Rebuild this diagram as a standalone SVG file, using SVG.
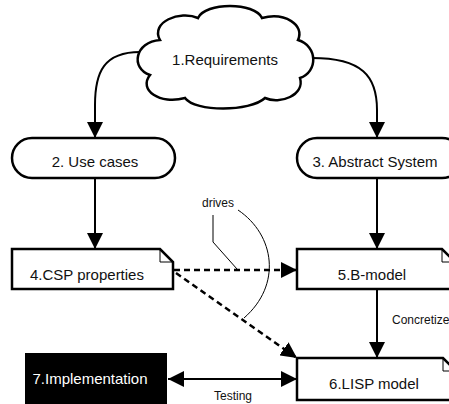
<svg xmlns="http://www.w3.org/2000/svg" width="449" height="404" viewBox="0 0 449 404">
<style>
.shape{fill:#fff;stroke:#000;stroke-width:2.5}
.fold{fill:none;stroke:#000;stroke-width:1}
.t{font-family:"Liberation Sans",Arial,sans-serif;font-size:15px;fill:#111;text-anchor:middle}
.lbl{font-family:"Liberation Sans",Arial,sans-serif;font-size:12px;fill:#111}
.c{fill:none;stroke:#000;stroke-width:2}
.d{fill:none;stroke:#000;stroke-width:2.5;stroke-dasharray:6 4}
.thin{fill:none;stroke:#000;stroke-width:1}
</style>
<defs>
<marker id="ah" markerUnits="userSpaceOnUse" markerWidth="17" markerHeight="16" refX="16" refY="8" orient="auto">
<path d="M0,0 L16,8 L0,16 z" fill="#000"/>
</marker>
<marker id="as" markerUnits="userSpaceOnUse" markerWidth="17" markerHeight="16" refX="0" refY="8" orient="auto">
<path d="M16,0 L0,8 L16,16 z" fill="#000"/>
</marker>
</defs>
<g id="connectors">
<path class="c" d="M140,52 C104,52 95,72 95,105 L95,138" marker-end="url(#ah)"/>
<path class="c" d="M312,58 C362,58 377,76 377,110 L377,138" marker-end="url(#ah)"/>
<path class="c" d="M95,178 L95,249" marker-end="url(#ah)"/>
<path class="c" d="M377,178 L377,249" marker-end="url(#ah)"/>
<path class="c" d="M377,289 L377,358" marker-end="url(#ah)"/>
<path class="c" d="M168,379 L297,379" marker-start="url(#as)" marker-end="url(#ah)"/>
<path class="d" d="M174,270 L297,270" marker-end="url(#ah)"/>
<path class="d" d="M176,273 L297,358" marker-end="url(#ah)"/>
<path class="thin" d="M213,215 L213,242 L237,269"/>
<path class="thin" d="M238,210 C275,235 282,285 244,318"/>
<text class="lbl" x="218" y="207" text-anchor="middle">drives</text>
<text class="lbl" x="392" y="324">Concretize</text>
<text class="lbl" x="233" y="400" text-anchor="middle">Testing</text>
</g>
<g id="n1">
<path class="shape" d="M160,40 C150,22 180,10 198,18 C205,2 255,2 262,18 C285,12 305,25 298,40 C318,46 318,72 300,78 C305,95 280,105 265,98 C250,112 195,112 185,98 C160,105 138,90 150,75 C130,68 135,42 160,40 Z"/>
<text class="t" x="225" y="65">1.Requirements</text>
</g>
<g id="n2">
<rect class="shape" x="12" y="138" width="163" height="40" rx="20"/>
<text class="t" x="95" y="167">2. Use cases</text>
</g>
<g id="n3">
<rect class="shape" x="297" y="138" width="165" height="40" rx="20"/>
<text class="t" x="375" y="167">3. Abstract System</text>
</g>
<g id="n4">
<path class="shape" d="M12,249 L160,249 L173,262 L173,289 L12,289 Z"/>
<path class="fold" d="M160,249 L160,262 L173,262"/>
<text class="t" x="87" y="280">4.CSP properties</text>
</g>
<g id="n5">
<path class="shape" d="M297,249 L442,249 L455,262 L455,289 L297,289 Z"/>
<path class="fold" d="M442,249 L442,262 L455,262"/>
<text class="t" x="372" y="280">5.B-model</text>
</g>
<g id="n6">
<path class="shape" d="M297,358 L443,358 L456,371 L456,400 L297,400 Z"/>
<path class="fold" d="M443,358 L443,371 L456,371"/>
<text class="t" x="374" y="389">6.LISP model</text>
</g>
<g id="n7">
<rect x="25" y="353" width="142" height="60" fill="#000"/>
<text class="t" x="90" y="384" style="fill:#fff">7.Implementation</text>
</g>
</svg>
